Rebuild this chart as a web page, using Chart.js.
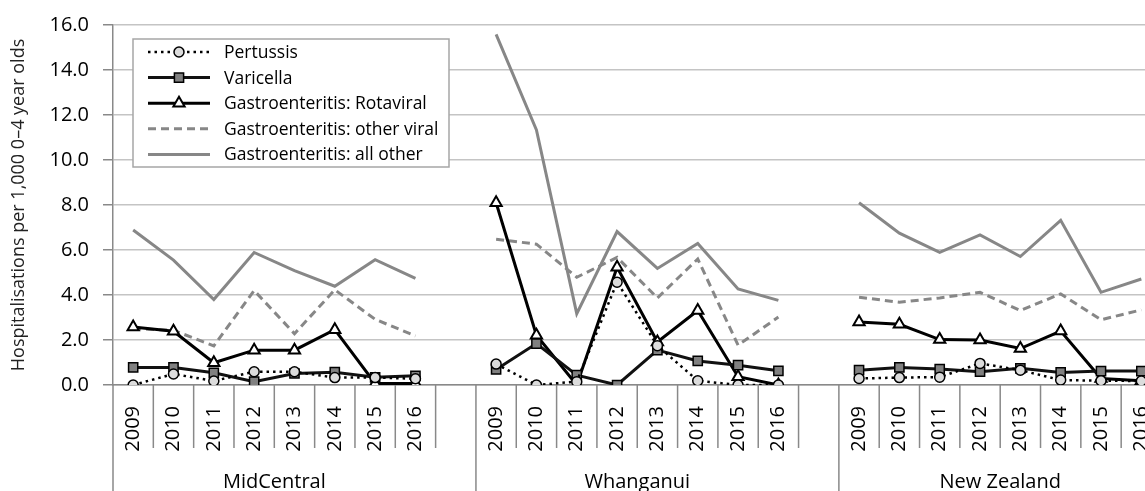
<!DOCTYPE html>
<html>
<head>
<meta charset="utf-8">
<script src="https://cdn.jsdelivr.net/npm/chart.js@4/dist/chart.umd.min.js"></script>
<style>
  html, body { margin: 0; padding: 0; background: #fff; overflow: hidden; }
  #wrap { position: relative; width: 1170px; height: 503px; }
</style>
</head>
<body>
<div id="wrap"><canvas id="chart"></canvas></div>
<script>
const FONT = '"Open Sans", "Noto Sans", sans-serif';

const regions = ['MidCentral', 'Whanganui', 'New Zealand'];
const years = ['2009', '2010', '2011', '2012', '2013', '2014', '2015', '2016'];

// rates per 1,000 0-4 year olds, MidCentral / Whanganui / New Zealand, 2009-2016
const pertussis  = [0.00, 0.49, 0.18, 0.59, 0.59, 0.33, 0.33, 0.28,
                    0.93, 0.00, 0.15, 4.57, 1.75, 0.19, 0.00, 0.00,
                    0.29, 0.33, 0.35, 0.96, 0.66, 0.22, 0.19, 0.18];
const varicella  = [0.78, 0.78, 0.54, 0.15, 0.51, 0.57, 0.34, 0.41,
                    0.69, 1.84, 0.44, 0.00, 1.55, 1.07, 0.88, 0.63,
                    0.66, 0.78, 0.71, 0.59, 0.74, 0.56, 0.62, 0.62];
const rotaviral  = [2.58, 2.39, 0.99, 1.55, 1.55, 2.46, 0.07, 0.07,
                    8.10, 2.21, 0.00, 5.23, 1.91, 3.31, 0.37, 0.00,
                    2.80, 2.70, 2.02, 2.00, 1.62, 2.40, 0.29, 0.19];
const otherViral = [2.50, 2.43, 1.74, 4.20, 2.28, 4.23, 2.92, 2.18,
                    6.48, 6.26, 4.79, 5.67, 3.87, 5.60, 1.77, 3.02,
                    3.90, 3.68, 3.87, 4.12, 3.31, 4.05, 2.90, 3.34];
const allOther   = [6.89, 5.55, 3.80, 5.89, 5.08, 4.39, 5.57, 4.74,
                    15.58, 11.34, 3.17, 6.82, 5.18, 6.29, 4.27, 3.76,
                    8.10, 6.75, 5.89, 6.67, 5.71, 7.32, 4.12, 4.71];

const yTicks = [0, 2, 4, 6, 8, 10, 12, 14, 16];

// one empty slot between regions so the lines break
const labels = [];
regions.forEach((r, i) => {
  labels.push(...years);
  if (i < regions.length - 1) labels.push('');
});
function spread(values) {
  const out = [];
  regions.forEach((r, i) => {
    out.push(...values.slice(i * years.length, (i + 1) * years.length));
    if (i < regions.length - 1) out.push(null);
  });
  return out;
}

const GREY = '#878787';
const series = [
  { label: 'Pertussis', data: spread(pertussis), borderColor: '#000', borderWidth: 2.5,
    borderDash: [2.5, 4], pointStyle: 'circle', pointRadius: 5,
    pointBackgroundColor: '#dcdcdc', pointBorderColor: '#000', pointBorderWidth: 1.5 },
  { label: 'Varicella', data: spread(varicella), borderColor: '#111', borderWidth: 3,
    pointStyle: 'rect', pointRadius: 6.5,
    pointBackgroundColor: '#808080', pointBorderColor: '#000', pointBorderWidth: 1.5 },
  { label: 'Gastroenteritis: Rotaviral', data: spread(rotaviral), borderColor: '#000', borderWidth: 3,
    pointStyle: 'triangle', pointRadius: 6.5,
    pointBackgroundColor: '#fff', pointBorderColor: '#000', pointBorderWidth: 2 },
  { label: 'Gastroenteritis: other viral', data: spread(otherViral), borderColor: GREY, borderWidth: 3,
    borderDash: [8, 5], pointRadius: 0 },
  { label: 'Gastroenteritis: all other', data: spread(allOther), borderColor: GREY, borderWidth: 3,
    pointRadius: 0 }
];

// boxed legend in the upper left of the plot
const boxLegend = {
  id: 'boxLegend',
  afterDatasetsDraw(chart) {
    const { ctx, chartArea } = chart;
    const x0 = chartArea.left + 20, y0 = chartArea.top + 14;
    const w = 316, h = 128, rowH = 25.6;
    ctx.save();
    ctx.fillStyle = '#fff';
    ctx.fillRect(x0, y0, w, h);
    ctx.strokeStyle = '#a6a6a6';
    ctx.lineWidth = 1.5;
    ctx.strokeRect(x0, y0, w, h);
    ctx.font = '17.5px ' + FONT;
    ctx.textBaseline = 'middle';
    chart.data.datasets.forEach((ds, i) => {
      const y = y0 + 13 + i * rowH;
      ctx.strokeStyle = ds.borderColor;
      ctx.lineWidth = ds.borderWidth;
      ctx.setLineDash(ds.borderDash || []);
      ctx.beginPath();
      ctx.moveTo(x0 + 15, y);
      ctx.lineTo(x0 + 77, y);
      ctx.stroke();
      ctx.setLineDash([]);
      if (ds.pointRadius > 0) {
        ctx.fillStyle = ds.pointBackgroundColor;
        ctx.strokeStyle = ds.pointBorderColor;
        ctx.lineWidth = ds.pointBorderWidth;
        Chart.helpers.drawPoint(ctx, { pointStyle: ds.pointStyle, radius: ds.pointRadius, borderWidth: ds.pointBorderWidth }, x0 + 46, y);
      }
      ctx.fillStyle = '#000';
      ctx.fillText(ds.label, x0 + 91, y + 1);
    });
    ctx.restore();
  }
};

// two-level category axis: year ticks plus region separators and names
const regionAxis = {
  id: 'regionAxis',
  afterDraw(chart) {
    const { ctx, chartArea, scales: { x } } = chart;
    const slot = x.getPixelForValue(1) - x.getPixelForValue(0);
    const base = chartArea.bottom;
    ctx.save();
    ctx.strokeStyle = '#898989';
    ctx.lineWidth = 1.5;
    ctx.font = '20px ' + FONT;
    ctx.fillStyle = '#000';
    ctx.textAlign = 'center';
    ctx.textBaseline = 'middle';
    regions.forEach((r, i) => {
      const first = i * (years.length + 1);
      const left = x.getPixelForValue(first) - slot / 2;
      ctx.beginPath();
      ctx.moveTo(left, base);
      ctx.lineTo(left, chart.height);
      ctx.stroke();
      years.forEach((yr, j) => {
        const edge = x.getPixelForValue(first + j) + slot / 2;
        ctx.beginPath();
        ctx.moveTo(edge, base);
        ctx.lineTo(edge, base + 63);
        ctx.stroke();
      });
      const mid = (x.getPixelForValue(first) + x.getPixelForValue(first + years.length - 1)) / 2;
      ctx.fillText(r, mid, base + 97);
    });
    ctx.restore();
  }
};

new Chart(document.getElementById('chart'), {
  type: 'line',
  data: { labels: labels, datasets: series },
  options: {
    responsive: true,
    maintainAspectRatio: false,
    animation: false,
    layout: { padding: { top: 25, left: 0, right: 0, bottom: 0 } },
    elements: { line: { tension: 0 } },
    plugins: { legend: { display: false }, tooltip: { enabled: false } },
    scales: {
      x: {
        type: 'category',
        offset: true,
        grid: { display: false },
        border: { display: true, color: '#898989', width: 1.5 },
        ticks: {
          autoSkip: false, minRotation: 90, maxRotation: 90, padding: 13,
          color: '#000', font: { family: FONT, size: 20 }
        },
        afterFit(scale) {
          scale.height = 118;
          scale.paddingLeft = 0;
          scale.paddingRight = 0;
        }
      },
      y: {
        min: 0, max: 16,
        afterBuildTicks(scale) { scale.ticks = yTicks.map(v => ({ value: v })); },
        grid: { color: '#c4c4c4', lineWidth: 1.5, tickLength: 10, tickColor: '#898989' },
        border: { display: true, color: '#898989', width: 1.5 },
        ticks: {
          padding: 14, color: '#000', font: { family: FONT, size: 20 },
          callback: v => v.toFixed(1)
        },
        title: {
          display: true, text: 'Hospitalisations per 1,000 0–4 year olds',
          color: '#222', font: { family: FONT, size: 18 }, padding: { top: 8, bottom: 0 }
        },
        afterFit(scale) {
          scale.width = 113;
          scale.paddingTop = 0;
          scale.paddingBottom = 0;
        }
      }
    }
  },
  plugins: [boxLegend, regionAxis]
});
</script>
</body>
</html>
